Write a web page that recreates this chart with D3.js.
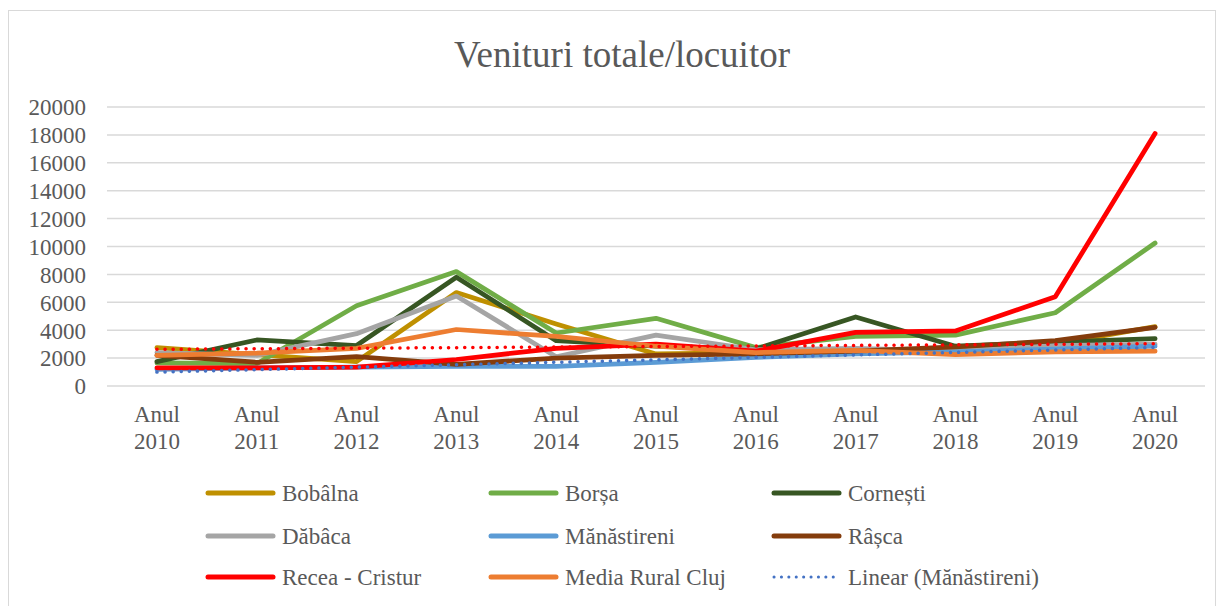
<!DOCTYPE html>
<html>
<head>
<meta charset="utf-8">
<script src="https://cdn.jsdelivr.net/npm/d3@7"></script>
<style>
  html, body { margin: 0; padding: 0; background: #ffffff; }
  svg { display: block; }
  text { font-family: "Liberation Serif", "Times New Roman", serif; fill: #595959; }
</style>
</head>
<body>
<svg id="chart" width="1220" height="606"></svg>
<script>
// Venituri totale pe locuitor, comune din județul Cluj, 2010-2020
const ani = ["Anul 2010", "Anul 2011", "Anul 2012", "Anul 2013", "Anul 2014", "Anul 2015",
             "Anul 2016", "Anul 2017", "Anul 2018", "Anul 2019", "Anul 2020"];

const bobalna     = [2750, 2250, 1750, 6700, 4450, 2300, 2400, 2600, 2500, 3000, 4250];
const borsa       = [1650, 1600, 5750, 8200, 3800, 4850, 2750, 3550, 3650, 5250, 10250];
const cornesti    = [1750, 3300, 2900, 7800, 3250, 2850, 2650, 4950, 2850, 3150, 3400];
const dabaca      = [2400, 2200, 3750, 6450, 2100, 3650, 2600, 2700, 2500, 2900, 3000];
const manastireni = [1200, 1300, 1350, 1400, 1400, 1700, 2050, 2300, 2450, 2650, 2850];
const rasca       = [2200, 1700, 2100, 1550, 2000, 2200, 2300, 2500, 2800, 3250, 4200];
const receaCristur = [1300, 1300, 1350, 1900, 2700, 3000, 2500, 3850, 3950, 6400, 18100];
const mediaRural  = [2200, 2350, 2700, 4050, 3550, 2850, 2400, 2550, 2250, 2450, 2500];

// dreapta de referință punctată (capete 2010 și 2020)
const referintaCapete = [2630, 3030];

const yTicks = [0, 2000, 4000, 6000, 8000, 10000, 12000, 14000, 16000, 18000, 20000];

const serii = [
  { nume: "Bobâlna", valori: bobalna, culoare: "#BF9000" },
  { nume: "Borșa", valori: borsa, culoare: "#70AD47" },
  { nume: "Cornești", valori: cornesti, culoare: "#375623" },
  { nume: "Dăbâca", valori: dabaca, culoare: "#A5A5A5" },
  { nume: "Mănăstireni", valori: manastireni, culoare: "#5B9BD5" },
  { nume: "Râșca", valori: rasca, culoare: "#843C0C" },
  { nume: "Recea - Cristur", valori: receaCristur, culoare: "#FF0000" },
  { nume: "Media Rural Cluj", valori: mediaRural, culoare: "#ED7D31" }
];

// regresie liniară pentru Mănăstireni
function trendLiniar(vals) {
  const n = vals.length;
  const xm = (n - 1) / 2;
  const ym = d3.mean(vals);
  let num = 0, den = 0;
  vals.forEach((v, i) => { num += (i - xm) * (v - ym); den += (i - xm) * (i - xm); });
  const b = num / den;
  const a = ym - b * xm;
  return vals.map((v, i) => a + b * i);
}
const trendManastireni = trendLiniar(manastireni);

const svg = d3.select("#chart");

// chenarul graficului
svg.append("rect")
  .attr("x", 8.5).attr("y", 10.5)
  .attr("width", 1207).attr("height", 620)
  .attr("fill", "#ffffff").attr("stroke", "#d9d9d9").attr("stroke-width", 1);

svg.append("text")
  .attr("x", 622).attr("y", 67)
  .attr("text-anchor", "middle")
  .style("font-size", "37px")
  .text("Venituri totale/locuitor");

const plotLeft = 107, plotRight = 1205;
const x = d3.scaleBand().domain(ani).range([plotLeft, plotRight]).padding(0);
const xc = d => x(d) + x.bandwidth() / 2;
const y = d3.scaleLinear().domain([0, 20000]).range([386, 107]);

// grila orizontală
svg.append("g")
  .selectAll("line")
  .data(yTicks)
  .join("line")
  .attr("x1", plotLeft).attr("x2", plotRight)
  .attr("y1", d => y(d)).attr("y2", d => y(d))
  .attr("stroke", "#d9d9d9").attr("stroke-width", 1.5);

// axa Y
const yAxis = svg.append("g")
  .attr("transform", "translate(86,0)")
  .call(d3.axisLeft(y).tickValues(yTicks).tickSize(0).tickPadding(0).tickFormat(d3.format("d")));
yAxis.select(".domain").remove();
yAxis.selectAll("text")
  .style("font-size", "23px")
  .style("fill", "#595959")
  .style("font-family", "'Liberation Serif', 'Times New Roman', serif")
  .attr("dy", "0.34em");

// axa X, etichete pe două rânduri
const xAxis = svg.append("g")
  .attr("transform", "translate(0,386)")
  .call(d3.axisBottom(x).tickSize(0).tickFormat(""));
xAxis.select(".domain").remove();
xAxis.selectAll(".tick").each(function (d) {
  const parts = d.split(" ");
  const t = d3.select(this).append("text")
    .attr("text-anchor", "middle")
    .style("font-size", "23px")
    .style("fill", "#595959")
    .style("font-family", "'Liberation Serif', 'Times New Roman', serif");
  t.append("tspan").attr("x", 0).attr("y", 35.5).text(parts[0]);
  t.append("tspan").attr("x", 0).attr("y", 63).text(parts[1]);
});

const linie = d3.line()
  .x((d, i) => xc(ani[i]))
  .y(d => y(d));

const g = svg.append("g");
serii.forEach(s => {
  g.append("path")
    .datum(s.valori)
    .attr("d", linie)
    .attr("fill", "none")
    .attr("stroke", s.culoare)
    .attr("stroke-width", 4.75)
    .attr("stroke-linejoin", "round")
    .attr("stroke-linecap", "round");
});

// dreapta punctată roșie
g.append("line")
  .attr("x1", xc(ani[0])).attr("x2", xc(ani[ani.length - 1]))
  .attr("y1", y(referintaCapete[0])).attr("y2", y(referintaCapete[1]))
  .attr("stroke", "#FF0000")
  .attr("stroke-width", 3.5)
  .attr("stroke-linecap", "round")
  .attr("stroke-dasharray", "0.1 8");

// trend liniar Mănăstireni
g.append("path")
  .datum(trendManastireni)
  .attr("d", linie)
  .attr("fill", "none")
  .attr("stroke", "#4472C4")
  .attr("stroke-width", 3.5)
  .attr("stroke-linecap", "round")
  .attr("stroke-dasharray", "0.1 8");

// legenda
const legenda = serii.map(s => ({ nume: s.nume, culoare: s.culoare, punctat: false }))
  .concat([{ nume: "Linear (Mănăstireni)", culoare: "#4472C4", punctat: true }]);
const colX = [206, 489, 772];
const rowY = [493, 536, 577];
const lg = svg.append("g");
legenda.forEach((d, i) => {
  const cx = colX[i % 3], cy = rowY[Math.floor(i / 3)];
  const it = lg.append("g").attr("transform", `translate(${cx},${cy})`);
  if (d.punctat) {
    it.append("line").attr("x1", 2).attr("x2", 68).attr("y1", 0).attr("y2", 0)
      .attr("stroke", d.culoare).attr("stroke-width", 3)
      .attr("stroke-linecap", "round").attr("stroke-dasharray", "0.1 7.3");
  } else {
    it.append("line").attr("x1", 2).attr("x2", 67).attr("y1", 0).attr("y2", 0)
      .attr("stroke", d.culoare).attr("stroke-width", 5)
      .attr("stroke-linecap", "round");
  }
  it.append("text").attr("x", 76).attr("y", 0).attr("dy", "0.36em")
    .style("font-size", "23px").text(d.nume);
});
</script>
</body>
</html>
